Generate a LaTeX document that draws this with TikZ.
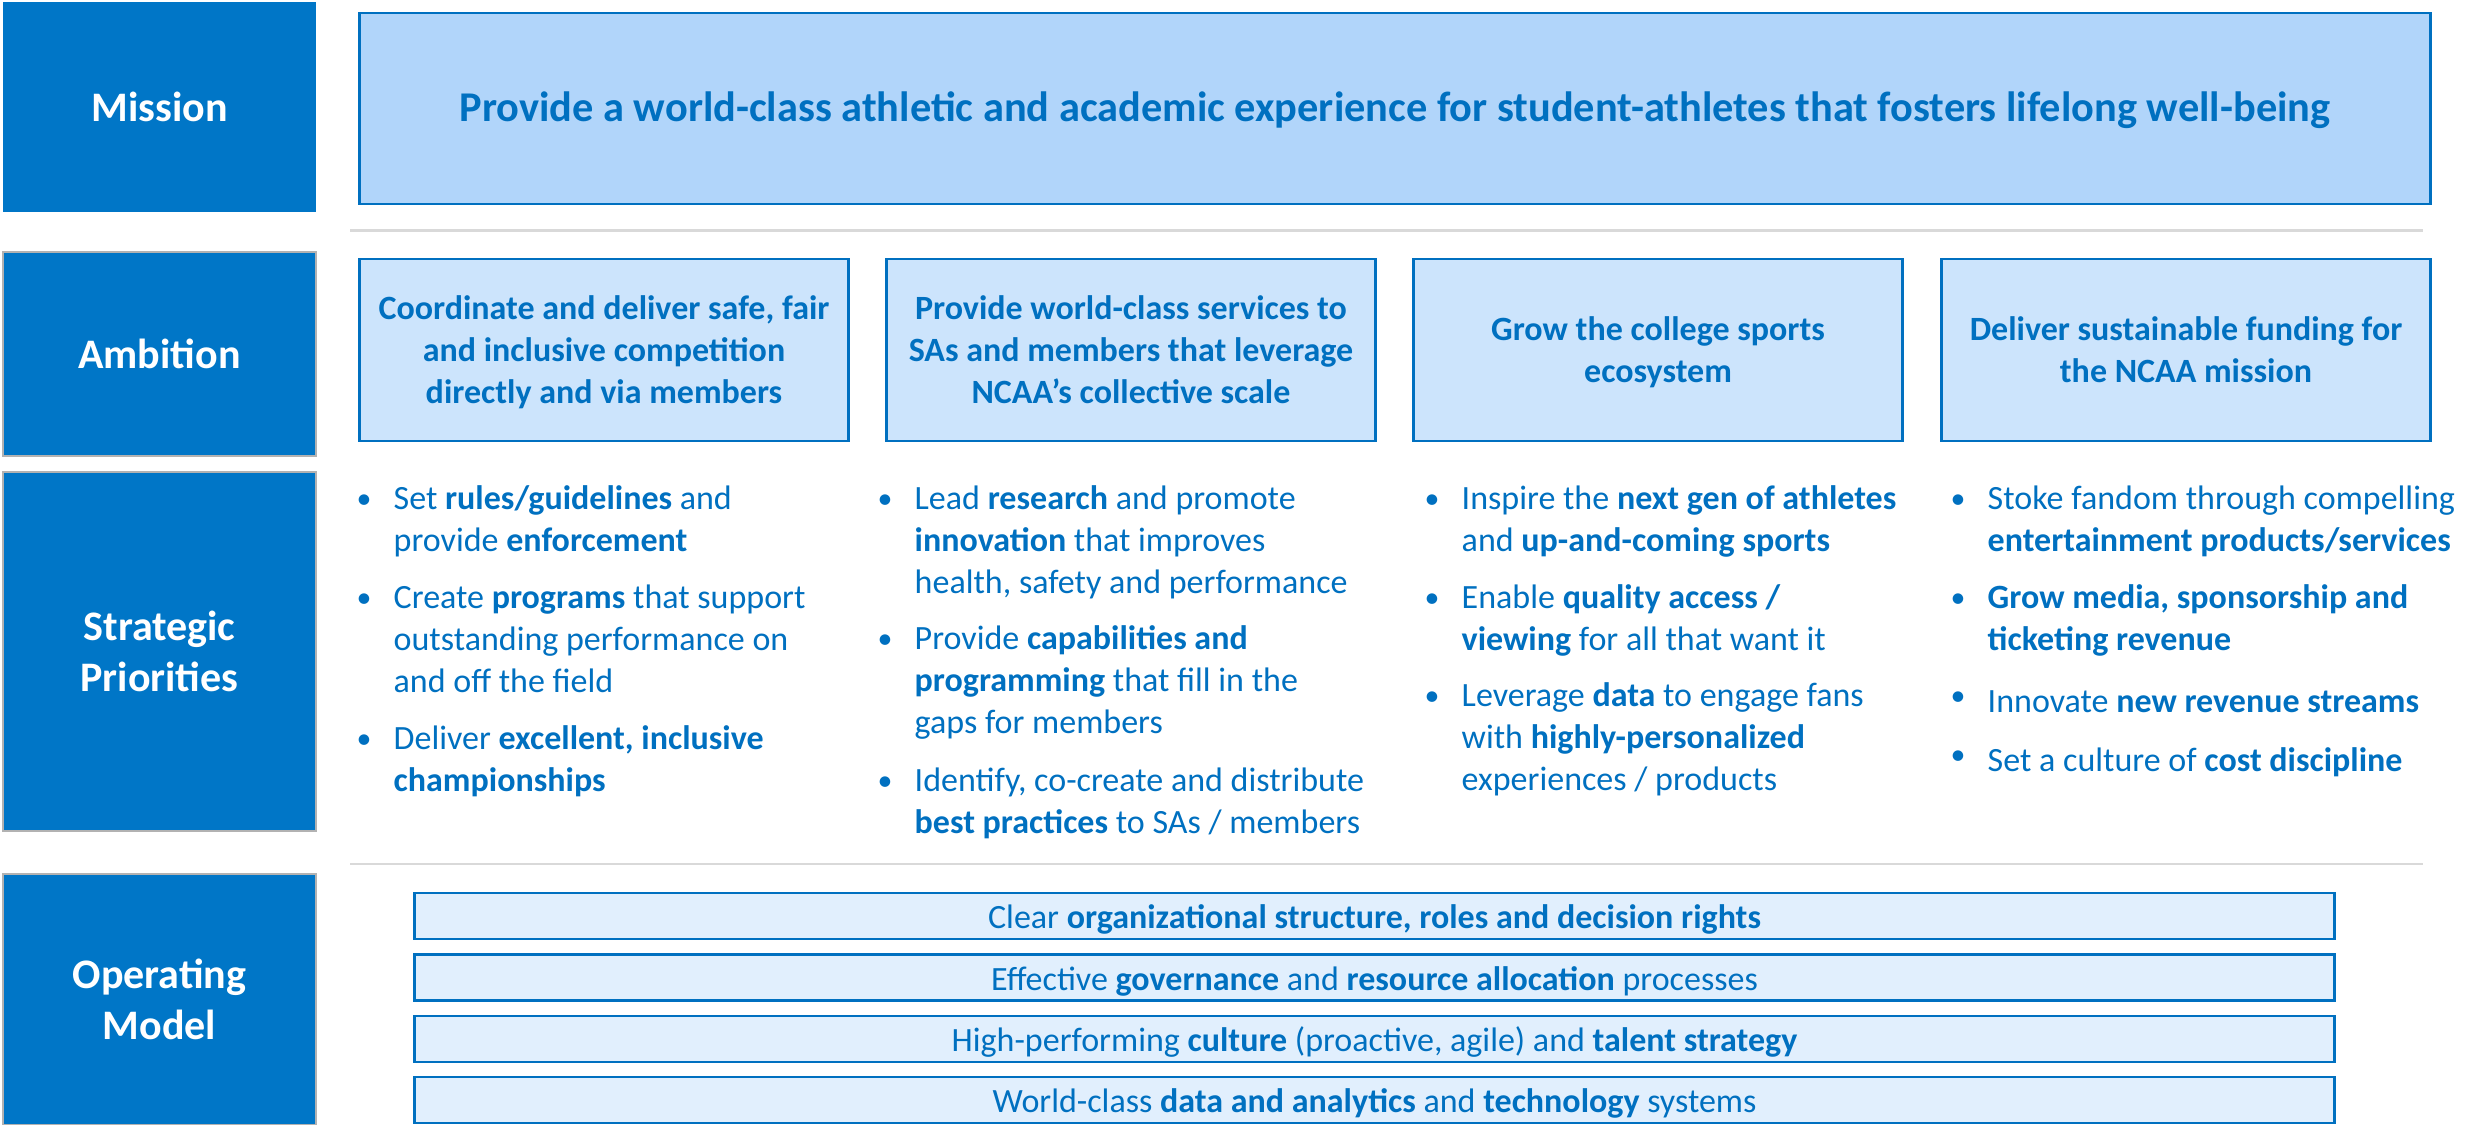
\documentclass[tikz,border=0pt]{standalone}
\usepackage{fontspec}
\setmainfont{Carlito}
\definecolor{dblue}{RGB}{0,118,199}
\definecolor{tblue}{RGB}{0,112,192}
\definecolor{bord}{RGB}{0,112,192}
\definecolor{misfill}{RGB}{177,213,250}
\definecolor{ambfill}{RGB}{204,228,252}
\definecolor{barfill}{RGB}{225,239,253}
\definecolor{sepgray}{RGB}{217,217,217}
\newcommand\bodyfont{\fontsize{9.67}{11.95}\selectfont}
\newcommand\labfont{\fontsize{11.95}{14.5}\selectfont\bfseries}
\newcommand\misfont{\fontsize{12.05}{14.5}\selectfont\bfseries}
\newcommand\lowered[2]{\raisebox{-#1}[\height][\depth]{\begin{tabular}{@{}c@{}}#2\end{tabular}}}
\newcommand\bulletdot{\raisebox{2pt}{\fontsize{8.5}{11.95}\selectfont •}}
\tikzset{
  lab/.style={fill=dblue, text=white, font=\labfont, align=center, inner sep=0pt, minimum width=3.13cm},
  labb/.style={lab, draw=gray!60, line width=0.4pt},
  misbox/.style={fill=misfill, draw=bord, line width=0.8pt, text=tblue, font=\misfont, inner sep=0pt, minimum width=20.7cm, minimum height=1.91cm},
  ambbox/.style={fill=ambfill, draw=bord, line width=0.8pt, text=tblue, font=\bodyfont\bfseries, inner sep=0pt, minimum width=4.88cm, minimum height=1.82cm},
  barbox/.style={fill=barfill, draw=bord, line width=0.8pt, text=tblue, font=\bodyfont, inner sep=0pt, minimum width=19.19cm, minimum height=0.46cm},
  item/.style={anchor=north west, inner sep=0pt, align=left, text=tblue, font=\bodyfont, execute at begin node=\strut},
  bul/.style={anchor=north, inner sep=0pt, text=tblue, font=\bodyfont, execute at begin node=\strut},
  sep/.style={draw=sepgray, line width=0.85pt}
}
\begin{document}
\begin{tikzpicture}[x=0.01cm,y=-0.01cm]
\useasboundingbox (0,0) rectangle (2476,1125);
% left labels
\node[lab, minimum height=2.10cm] (lmis) at (159.5,107) {Mission};
\node[labb, minimum height=2.04cm] (lamb) at (159.5,354) {Ambition};
\node[labb, minimum height=3.59cm] (lstr) at (159.5,651.5) {Strategic\\Priorities};
\node[labb, minimum height=2.51cm] (lop) at (159.5,999.5) {Operating\\Model};
% mission
\node[misbox] (mis) at (1395,108.5) {\lowered{0.8pt}{Provide a world-class athletic and academic experience for student-athletes that fosters lifelong well-being}};
% separators
\coordinate (s1a) at (350,231); \coordinate (s1b) at (2423,231);
\coordinate (s2a) at (350,864); \coordinate (s2b) at (2423,864);
\draw[sep] (s1a) -- (s1b);
\draw[sep] (s2a) -- (s2b);
% ambitions
\node[ambbox] (a1) at (604,350) {\lowered{1pt}{Coordinate and deliver safe, fair\\and inclusive competition\\directly and via members}};
\node[ambbox] (a2) at (1131,350) {\lowered{1pt}{Provide world-class services to\\SAs and members that leverage\\NCAA’s collective scale}};
\node[ambbox] (a3) at (1658,350) {\lowered{1pt}{Grow the college sports\\ecosystem}};
\node[ambbox] (a4) at (2186,350) {\lowered{1pt}{Deliver sustainable funding for\\the NCAA mission}};
% column 1
\node[bul] (b11) at (364,485) {\bulletdot};
\node[item] (p11) at (393,485) {Set \textbf{rules/guidelines} and\\provide \textbf{enforcement}};
\node[bul] (b12) at (364,584) {\bulletdot};
\node[item] (p12) at (393,584) {Create \textbf{programs} that support\\outstanding performance on\\and off the field};
\node[bul] (b13) at (364,725) {\bulletdot};
\node[item] (p13) at (393,725) {Deliver \textbf{excellent, inclusive}\\\textbf{championships}};
% column 2
\node[bul] (b21) at (885,485) {\bulletdot};
\node[item] (p21) at (914,485) {Lead \textbf{research} and promote\\\textbf{innovation} that improves\\health, safety and performance};
\node[bul] (b22) at (885,625) {\bulletdot};
\node[item] (p22) at (914,625) {Provide \textbf{capabilities and}\\\textbf{programming} that fill in the\\gaps for members};
\node[bul] (b23) at (885,767) {\bulletdot};
\node[item] (p23) at (914,767) {Identify, co-create and distribute\\\textbf{best practices} to SAs / members};
% column 3
\node[bul] (b31) at (1432,485) {\bulletdot};
\node[item] (p31) at (1461,485) {Inspire the \textbf{next gen of athletes}\\and \textbf{up-and-coming sports}};
\node[bul] (b32) at (1432,584) {\bulletdot};
\node[item] (p32) at (1461,584) {Enable \textbf{quality access /}\\\textbf{viewing} for all that want it};
\node[bul] (b33) at (1432,682) {\bulletdot};
\node[item] (p33) at (1461,682) {Leverage \textbf{data} to engage fans\\with \textbf{highly-personalized}\\experiences / products};
% column 4
\node[bul] (b41) at (1958,485) {\bulletdot};
\node[item] (p41) at (1987,485) {Stoke fandom through compelling\\\textbf{entertainment products/services}};
\node[bul] (b42) at (1958,584) {\bulletdot};
\node[item] (p42) at (1987,584) {\textbf{Grow media, sponsorship and}\\\textbf{ticketing revenue}};
\node[bul] (b43) at (1958,682) {\bulletdot};
\node[item] (p43) at (1987,682) {Innovate \textbf{new revenue streams}};
\node[bul] (b44) at (1958,741) {\bulletdot};
\node[item] (p44) at (1987,741) {Set a culture of \textbf{cost discipline}};
% operating model bars
\node[barbox] (m1) at (1374.5,916) {\lowered{1.2pt}{\strut Clear \textbf{organizational structure, roles and decision rights}}};
\node[barbox] (m2) at (1374.5,977.5) {\lowered{1.2pt}{\strut Effective \textbf{governance} and \textbf{resource allocation} processes}};
\node[barbox] (m3) at (1374.5,1039) {\lowered{1.2pt}{\strut High-performing \textbf{culture} (proactive, agile) and \textbf{talent strategy}}};
\node[barbox] (m4) at (1374.5,1100) {\lowered{1.2pt}{\strut World-class \textbf{data and analytics} and \textbf{technology} systems}};
\end{tikzpicture}
\end{document}
